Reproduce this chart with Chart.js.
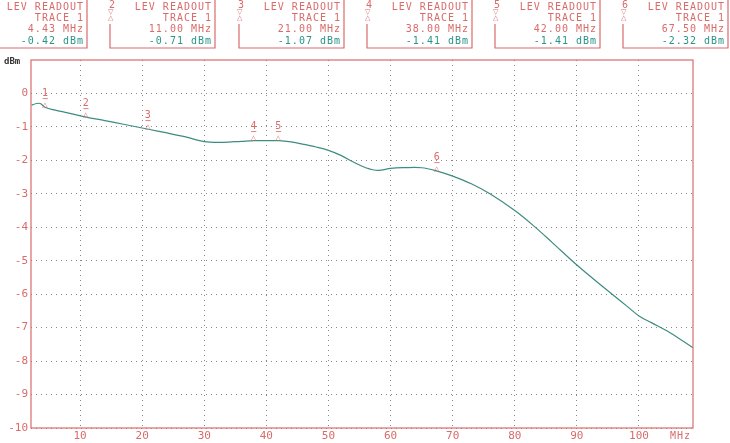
<!DOCTYPE html>
<html><head><meta charset="utf-8">
<script src="https://cdn.jsdelivr.net/npm/chart.js@4"></script>
<style>html,body{margin:0;padding:0;background:#fff}#wrap{width:730px;height:443px}</style>
</head><body><div id="wrap"><canvas id="c"></canvas></div>
<script>
const freqs = [2.2, 3.0, 3.6, 4.43, 6, 8, 11, 14, 17, 21, 24, 27, 30, 33, 36, 38, 40, 42, 44, 46, 48, 50, 52, 54, 56, 58, 60, 62, 65, 67.5, 70, 73, 76, 80, 83, 86, 90, 94, 98, 100, 102, 105, 108.7];
const levels = [-0.35, -0.3, -0.3, -0.42, -0.5, -0.58, -0.71, -0.81, -0.92, -1.07, -1.18, -1.3, -1.44, -1.46, -1.43, -1.41, -1.41, -1.41, -1.45, -1.52, -1.6, -1.7, -1.85, -2.05, -2.22, -2.3, -2.24, -2.22, -2.22, -2.32, -2.47, -2.7, -3.0, -3.5, -3.95, -4.45, -5.13, -5.75, -6.35, -6.65, -6.85, -7.15, -7.6];
const markerFreqs = [4.43, 11.00, 21.00, 38.00, 42.00, 67.50];
const markerLevels = [-0.42, -0.71, -1.07, -1.41, -1.41, -2.32];
const yTicks = [0, -1, -2, -3, -4, -5, -6, -7, -8, -9, -10];
const xTicks = [10, 20, 30, 40, 50, 60, 70, 80, 90, 100];
const PINK = '#d96b6b', TEAL = '#2a9486', FONT = '10px "DejaVu Sans Mono", monospace';

const overlay = {
  id: 'overlay',
  afterDraw(chart) {
    const ctx = chart.ctx, xs = chart.scales.x, ys = chart.scales.y, a = chart.chartArea;
    ctx.save();
    ctx.strokeStyle = PINK; ctx.lineWidth = 1.2;
    ctx.strokeRect(a.left, a.top, a.right - a.left, a.bottom - a.top);
    ctx.textAlign = 'left'; ctx.textBaseline = 'middle';
    ctx.font = 'bold 9px "DejaVu Sans Mono", monospace'; ctx.fillStyle = '#333';
    ctx.fillText('dBm', 4, 62);
    ctx.font = FONT; ctx.fillStyle = PINK;
    ctx.letterSpacing = '1px';
    ctx.fillText('MHz', 670, 436);
    ctx.textAlign = 'center';
    markerFreqs.forEach((f, i) => {
      const px = xs.getPixelForValue(f), py = ys.getPixelForValue(markerLevels[i]);
      ctx.fillText(String(i + 1), px, py - 14);
      ctx.fillText('\u2212', px, py - 8);
      ctx.font = '7px "DejaVu Sans", sans-serif';
      ctx.fillText('\u25B3', px, py - 2);
      ctx.font = FONT;
    });
    const lefts = [-18, 110, 239, 367, 495, 623], w = 105;
    markerFreqs.forEach((f, i) => {
      const L = lefts[i], R = L + w;
      ctx.beginPath();
      ctx.moveTo(L, 24); ctx.lineTo(L, 48); ctx.lineTo(R, 48); ctx.lineTo(R, 0);
      ctx.stroke();
      ctx.textAlign = 'left'; ctx.fillStyle = PINK;
      if (i > 0) {
        ctx.fillText(String(i + 1), L - 1, 5);
        ctx.font = '7px "DejaVu Sans", sans-serif';
        ctx.fillText('\u25BD', L - 2, 12); ctx.fillText('\u25B3', L - 2, 18);
        ctx.font = FONT;
      }
      ctx.textAlign = 'right';
      ctx.fillText('LEV READOUT', R - 3, 7);
      ctx.fillText('TRACE 1', R - 3, 18);
      ctx.fillText(f.toFixed(2) + ' MHz', R - 3, 29);
      ctx.fillStyle = TEAL;
      ctx.fillText(markerLevels[i].toFixed(2) + ' dBm', R - 3, 41);
    });
    ctx.restore();
  }
};

new Chart(document.getElementById('c'), {
  type: 'line',
  data: { datasets: [{ data: freqs.map((f, i) => ({ x: f, y: levels[i] })), borderColor: '#3d8c80', borderWidth: 1.2, pointRadius: 0, tension: 0.35, fill: false }] },
  options: {
    responsive: true, maintainAspectRatio: false, animation: false,
    layout: { padding: { top: 60, right: 37, bottom: 0, left: 0 } },
    plugins: { legend: { display: false }, tooltip: { enabled: false } },
    scales: {
      x: {
        type: 'linear', min: 2.1, max: 108.7,
        afterBuildTicks(s) { s.ticks = xTicks.map(v => ({ value: v })); },
        afterFit(s) { s.height = 15; },
        border: { display: false, dash: [1, 4] },
        grid: { color: '#888', lineWidth: 1, drawTicks: false },
        ticks: { color: PINK, font: { family: 'DejaVu Sans Mono', size: 11 }, padding: 2, maxRotation: 0 }
      },
      y: {
        min: -10, max: 1,
        afterBuildTicks(s) { s.ticks = yTicks.map(v => ({ value: v })); },
        afterFit(s) { s.width = 31; },
        border: { display: false, dash: [1, 4] },
        grid: { color: '#888', lineWidth: 1, drawTicks: false },
        ticks: { color: PINK, font: { family: 'DejaVu Sans Mono', size: 11 }, padding: 3, callback: v => String(v) }
      }
    }
  },
  plugins: [overlay]
});
</script></body></html>
